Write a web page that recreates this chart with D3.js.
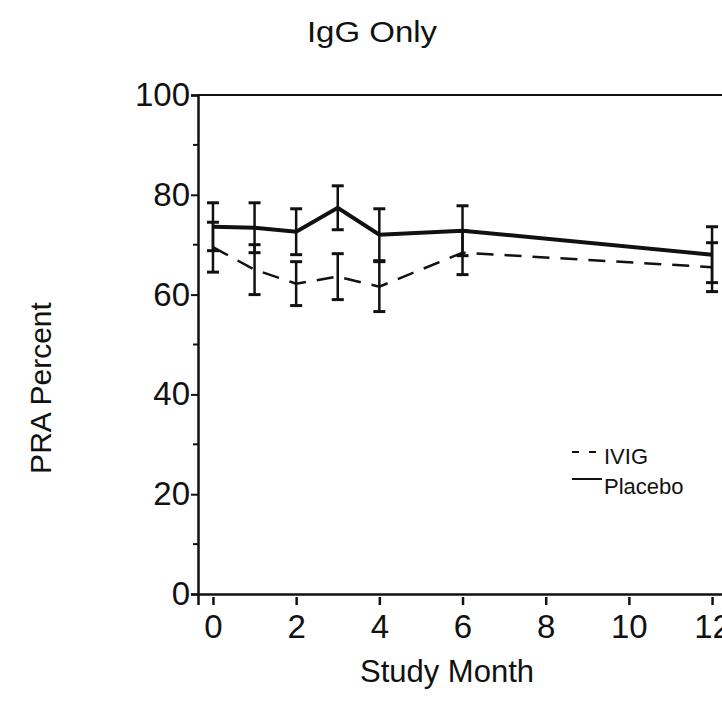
<!DOCTYPE html>
<html>
<head>
<meta charset="utf-8">
<script src="https://cdn.jsdelivr.net/npm/d3@7/dist/d3.min.js"></script>
<style>
  html, body { margin: 0; padding: 0; background: #fff; }
  svg { display: block; }
  text { font-family: "Liberation Sans", Arial, sans-serif; fill: #111; }
</style>
</head>
<body>
<svg id="chart" width="722" height="709"></svg>
<script>
// ---- data ----
const months = [0, 1, 2, 3, 4, 6, 12];
const placebo = [73.6, 73.4, 72.6, 77.4, 72, 72.8, 68];
const placeboErr = [4.8, 5, 4.6, 4.4, 5.2, 5, 5.6];
const ivig = [69.5, 65, 62.2, 63.6, 61.6, 68.4, 65.5];
const ivigErr = [5, 5, 4.4, 4.6, 5, 4.4, 4.9];
const xTicks = [0, 2, 4, 6, 8, 10, 12];
const yTicks = [0, 20, 40, 60, 80, 100];
const yMinor = [10, 30, 50, 70, 90];
const seriesNames = ["IVIG", "Placebo"];
const title = "IgG Only";
const xLabel = "Study Month";
const yLabel = "PRA Percent";

// ---- layout ----
const svg = d3.select("#chart");
const mLeft = 198, mTop = 95, mBottom = 594, mRight = 737;
const x = d3.scaleLinear().domain([-0.36, 12.6]).range([mLeft, mRight]);
const y = d3.scaleLinear().domain([0, 100]).range([mBottom, mTop]);

// title
svg.append("text")
  .attr("transform", "translate(372,42) scale(1.1,1)")
  .attr("text-anchor", "middle")
  .attr("font-size", 30)
  .text(title);

// frame top
svg.append("line")
  .attr("x1", mLeft).attr("x2", mRight)
  .attr("y1", y(100)).attr("y2", y(100))
  .attr("stroke", "#111").attr("stroke-width", 2);

// y axis
const yAxis = d3.axisLeft(y).tickValues(yTicks).tickSize(7).tickPadding(1).tickFormat(d3.format("d"));
const gy = svg.append("g").attr("transform", `translate(${mLeft},0)`).call(yAxis);
gy.select(".domain").attr("stroke", "#111").attr("stroke-width", 2.5);
gy.selectAll(".tick line").attr("stroke", "#111").attr("stroke-width", 2);
gy.selectAll(".tick text").attr("font-size", 33).attr("font-family", "Liberation Sans, Arial, sans-serif").attr("fill", "#111");
svg.append("g").selectAll("line").data(yMinor).join("line")
  .attr("x1", mLeft - 5).attr("x2", mLeft)
  .attr("y1", d => y(d)).attr("y2", d => y(d))
  .attr("stroke", "#111").attr("stroke-width", 2);

// x axis
const xAxis = d3.axisBottom(x).tickValues(xTicks).tickSize(11).tickPadding(10).tickFormat(d3.format("d"));
const gx = svg.append("g").attr("transform", `translate(0,${mBottom})`).call(xAxis);
gx.select(".domain").attr("stroke", "#111").attr("stroke-width", 2.5);
gx.selectAll(".tick line").attr("stroke", "#111").attr("stroke-width", 2.5).attr("y1", 3);
gx.selectAll(".tick text").attr("font-size", 33).attr("font-family", "Liberation Sans, Arial, sans-serif").attr("fill", "#111");

// axis labels
svg.append("text")
  .attr("x", 447).attr("y", 682)
  .attr("text-anchor", "middle")
  .attr("font-size", 31)
  .text(xLabel);
svg.append("text")
  .attr("transform", "translate(51,388) rotate(-90)")
  .attr("text-anchor", "middle")
  .attr("font-size", 30)
  .text(yLabel);

// error bars
function errorBars(vals, errs, sw) {
  const g = svg.append("g");
  months.forEach((m, i) => {
    const cx = x(m), hi = y(vals[i] + errs[i]), lo = y(vals[i] - errs[i]);
    g.append("line").attr("x1", cx).attr("x2", cx).attr("y1", hi).attr("y2", lo)
      .attr("stroke", "#111").attr("stroke-width", sw);
    [hi, lo].forEach(yy => g.append("line")
      .attr("x1", cx - 6).attr("x2", cx + 6).attr("y1", yy).attr("y2", yy)
      .attr("stroke", "#111").attr("stroke-width", 3));
  });
}
errorBars(ivig, ivigErr, 2.5);
errorBars(placebo, placeboErr, 2.5);

const line = d3.line().x(d => x(d[0])).y(d => y(d[1]));
svg.append("path")
  .datum(months.map((m, i) => [m, ivig[i]]))
  .attr("d", line).attr("fill", "none")
  .attr("stroke", "#111").attr("stroke-width", 2.5)
  .attr("stroke-dasharray", "17,11");
svg.append("path")
  .datum(months.map((m, i) => [m, placebo[i]]))
  .attr("d", line).attr("fill", "none")
  .attr("stroke", "#111").attr("stroke-width", 4);

// legend
const lg = svg.append("g");
lg.append("line").attr("x1", 572).attr("x2", 602).attr("y1", 452).attr("y2", 452)
  .attr("stroke", "#111").attr("stroke-width", 2).attr("stroke-dasharray", "7,10");
lg.append("line").attr("x1", 572).attr("x2", 602).attr("y1", 479).attr("y2", 479)
  .attr("stroke", "#111").attr("stroke-width", 2);
lg.append("text").attr("x", 604).attr("y", 464).attr("font-size", 22).text(seriesNames[0]);
lg.append("text").attr("x", 604).attr("y", 494).attr("font-size", 22).text(seriesNames[1]);
</script>
</body>
</html>
